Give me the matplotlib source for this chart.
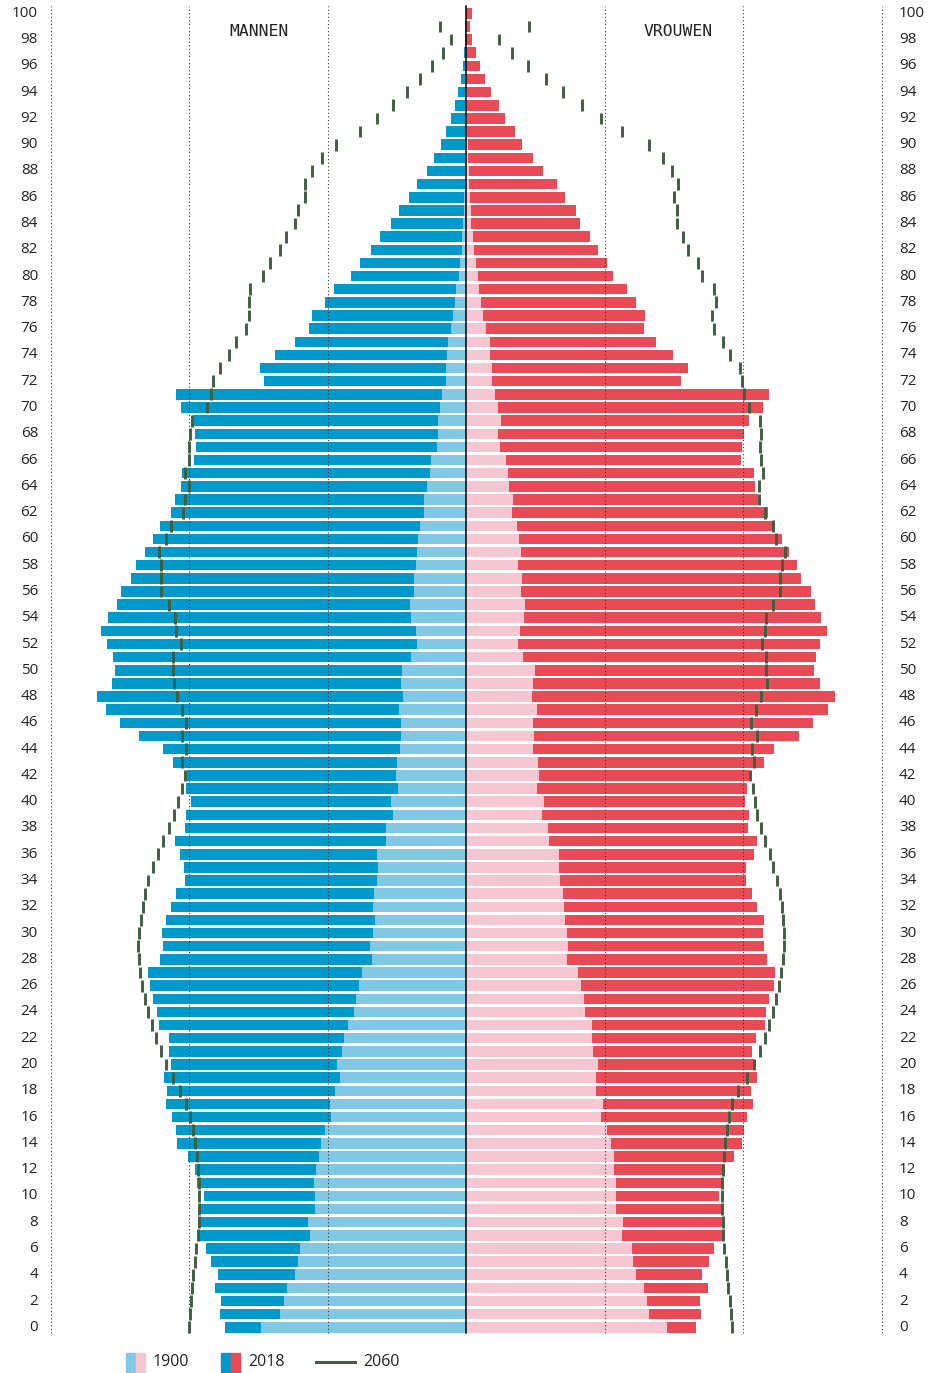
import numpy as np
import matplotlib
matplotlib.use("Agg")
import matplotlib.pyplot as plt
from matplotlib.patches import Rectangle
from matplotlib.lines import Line2D
import matplotlib.transforms as mtransforms

# population per age (x 1000), ages 0..100
ages = np.arange(0, 101)

men_2018 = [87.1, 88.9, 88.6, 90.7, 89.6, 92.2, 94.0, 96.5, 96.9, 96.5,
            94.7, 97.2, 97.9, 100.5, 104.4, 104.8, 106.2, 108.4, 108.1, 109.1,
            106.6, 107.3, 107.3, 110.9, 111.7, 113.1, 114.2, 114.9, 110.6, 109.5,
            109.9, 108.4, 106.6, 104.8, 101.6, 101.9, 103.4, 105.2, 101.6, 101.2,
            99.4, 101.2, 100.8, 105.9, 109.5, 118.2, 125.0, 130.1, 133.3, 127.9,
            126.8, 127.5, 129.7, 131.9, 129.4, 126.1, 124.7, 121.0, 119.2, 116.0,
            113.1, 110.6, 106.6, 105.2, 103.0, 102.6, 98.3, 97.6, 97.9, 98.7,
            103.0, 104.8, 73.0, 74.5, 69.1, 61.8, 56.8, 55.7, 51.0, 47.8,
            41.6, 38.4, 34.4, 31.2, 27.2, 24.3, 20.7, 17.8, 14.2, 11.7,
            9.1, 7.3, 5.5, 4.1, 3.0, 1.9, 1.2, 0.9, 0.5, 0.3, 0.2]

men_1900 = [74.1, 67.3, 65.8, 64.7, 61.8, 60.8, 60.0, 56.4, 57.1, 54.6,
            54.6, 55.0, 54.3, 53.2, 52.5, 51.0, 48.8, 49.2, 47.4, 45.6,
            46.7, 44.9, 44.2, 42.7, 40.5, 39.8, 38.7, 37.7, 34.0, 34.8,
            33.7, 33.0, 33.7, 33.3, 32.2, 31.9, 32.2, 29.0, 29.0, 26.5,
            27.2, 24.7, 25.4, 25.0, 23.9, 23.6, 23.6, 24.3, 22.9, 23.6,
            23.2, 20.0, 17.8, 18.2, 20.0, 20.3, 18.9, 18.9, 18.2, 17.8,
            17.4, 16.7, 15.3, 15.3, 14.2, 13.1, 12.7, 10.6, 10.2, 10.2,
            9.5, 8.8, 7.3, 7.3, 7.0, 6.6, 5.5, 4.8, 4.1, 3.7,
            2.6, 2.3, 1.6, 1.6, 1.2, 0.8, 0.8, 0.5, 0.5, 0.4,
            0.3, 0.2, 0.15, 0.1, 0.05, 0.05, 0.05, 0.05, 0.05, 0.05, 0.05]

men_2060 = [100.1, 99.7, 99.4, 99.0, 98.7, 97.9, 97.6, 96.9, 96.6, 96.4,
            96.4, 96.6, 96.9, 97.2, 97.9, 98.7, 99.7, 101.2, 103.4, 105.9,
            108.3, 110.1, 111.9, 113.6, 115.0, 116.1, 117.2, 117.9, 118.3, 118.6,
            118.3, 117.5, 116.8, 115.9, 114.8, 113.0, 111.2, 109.5, 107.3, 105.5,
            104.1, 102.6, 101.6, 102.6, 101.2, 102.6, 101.2, 102.6, 104.4, 105.5,
            105.9, 105.9, 103.0, 104.8, 105.2, 107.3, 110.2, 110.2, 110.2, 110.9,
            108.4, 106.6, 102.3, 101.6, 100.1, 101.6, 100.1, 100.1, 99.7, 99.1,
            93.7, 92.1, 91.3, 88.8, 85.6, 83.1, 79.5, 78.4, 78.4, 78.0,
            73.3, 70.8, 67.1, 65.0, 61.9, 60.9, 58.3, 58.3, 55.8, 52.0,
            46.9, 38.5, 32.1, 26.4, 21.4, 16.8, 12.3, 8.3, 5.4, 9.4, np.nan]

women_2018 = [82.9, 84.7, 84.4, 87.3, 85.1, 87.6, 89.4, 92.3, 92.3, 92.3,
              91.2, 92.3, 93.4, 96.6, 99.5, 100.3, 101.3, 103.5, 102.8, 104.9,
              103.9, 103.1, 104.6, 107.8, 108.2, 109.3, 111.1, 111.4, 108.6, 107.5,
              107.1, 107.5, 104.9, 103.1, 101.0, 101.0, 103.9, 104.9, 101.7, 102.1,
              100.6, 101.3, 101.9, 107.5, 111.1, 120.1, 125.2, 130.6, 133.1, 127.7,
              125.5, 126.2, 127.7, 130.2, 128.1, 125.9, 124.4, 120.8, 119.4, 116.5,
              114.0, 111.4, 108.9, 105.3, 104.2, 103.9, 99.2, 99.5, 100.3, 102.1,
              107.1, 109.3, 77.5, 80.0, 74.6, 68.5, 64.2, 64.5, 61.3, 58.0,
              53.0, 50.8, 47.5, 44.7, 41.0, 39.6, 35.6, 32.7, 27.7, 24.1,
              20.1, 17.6, 14.0, 11.8, 8.9, 6.8, 4.9, 3.5, 2.1, 1.3, 2.1]

women_1900 = [72.5, 66.0, 65.2, 64.2, 61.3, 60.2, 59.8, 56.2, 56.6, 54.0,
              54.0, 54.0, 53.3, 53.3, 52.2, 50.8, 48.6, 49.4, 46.8, 46.8,
              47.5, 45.7, 45.4, 45.4, 42.9, 42.5, 41.4, 40.3, 36.4, 36.7,
              36.4, 35.6, 35.3, 34.9, 33.8, 33.5, 33.5, 29.9, 29.5, 27.3,
              28.1, 25.5, 26.2, 25.9, 24.1, 24.4, 24.1, 25.5, 23.7, 24.1,
              24.8, 20.5, 18.7, 19.4, 20.8, 21.2, 19.7, 20.1, 18.7, 19.7,
              19.0, 18.3, 16.5, 16.9, 15.4, 15.1, 14.3, 12.2, 11.4, 12.5,
              11.4, 10.4, 9.3, 9.3, 8.6, 8.6, 7.1, 6.0, 5.3, 4.6,
              4.2, 3.5, 2.8, 2.4, 1.7, 1.7, 1.3, 0.9, 0.9, 0.7,
              0.5, 0.35, 0.25, 0.15, 0.1, 0.05, 0.05, 0.05, 0.05, 0.05, 0.05]

women_2060 = [96.0, 95.7, 95.3, 94.6, 94.2, 93.9, 93.1, 92.8, 92.8, 92.4,
              92.4, 92.4, 92.8, 93.1, 93.5, 94.2, 94.8, 95.9, 98.2, 101.2,
              104.0, 106.1, 107.9, 109.4, 110.8, 111.8, 112.9, 113.6, 114.3, 114.7,
              114.7, 114.3, 114.0, 113.4, 112.3, 110.8, 109.7, 107.9, 106.5, 105.1,
              104.1, 103.4, 102.3, 103.8, 103.0, 105.1, 102.7, 104.7, 106.5, 108.7,
              108.3, 108.1, 106.6, 107.7, 108.3, 110.8, 113.4, 113.4, 114.1, 115.1,
              111.9, 110.8, 107.7, 105.6, 105.6, 107.0, 106.3, 105.9, 106.5, 105.9,
              101.9, 100.3, 99.5, 98.9, 95.3, 92.8, 89.5, 88.8, 90.3, 89.5,
              85.0, 83.5, 79.9, 78.1, 76.2, 76.2, 75.1, 76.5, 74.4, 71.1,
              65.8, 56.2, 48.7, 41.7, 35.0, 28.9, 22.2, 16.5, 11.9, 22.5, np.nan]

grid_values = [50, 100, 150]
legend_labels = ["1900", "2018", "2060"]

C_MEN = "#0099cc"
C_MEN_LIGHT = "#80c8e4"
C_WOMEN = "#e84b55"
C_WOMEN_LIGHT = "#f7c6d3"
C_2060 = "#3e5f40"
C_TEXT = "#222222"
NUM_FONT = "Open Sans"

W, H = 934, 1373
fig = plt.figure(figsize=(W / 100, H / 100), dpi=100)
ax = fig.add_axes([0, 0, 1, 1])
ax.axis("off")

# pixel layout: centre at x=466.3, 2.77 px per 1000, 13.14 px per year
cx, kpx, ypx, y0 = 466.3, 2.77, 13.14, 1327.3
ax.set_xlim(-cx / kpx, (W - cx) / kpx)
ax.set_ylim(-(H - y0) / ypx, y0 / ypx)

men_2018 = np.array(men_2018)
men_1900 = np.array(men_1900)
men_2060 = np.array(men_2060)
women_2018 = np.array(women_2018)
women_1900 = np.array(women_1900)
women_2060 = np.array(women_2060)

bh = 0.8
ax.barh(ages, -men_2018, height=bh, color=C_MEN, zorder=2)
ax.barh(ages, -men_1900, height=bh, color=C_MEN_LIGHT, zorder=3)
ax.barh(ages, women_2018, height=bh, color=C_WOMEN, zorder=2)
ax.barh(ages, women_1900, height=bh, color=C_WOMEN_LIGHT, zorder=3)

# dotted grid
for g in grid_values:
    for s in (-1, 1):
        ax.plot([s * g, s * g], [-0.45, 100.55], color="#333333", lw=0.8,
                linestyle=(0, (1, 2.2)), zorder=4)
ax.plot([0, 0], [-0.45, 100.55], color="black", lw=1.1, zorder=5)

# 2060 projection as short ticks
ax.vlines(-men_2060, ages - 0.45, ages + 0.45, color=C_2060, lw=2.1, zorder=6)
ax.vlines(women_2060, ages - 0.45, ages + 0.45, color=C_2060, lw=2.1, zorder=6)

# age labels
trans = mtransforms.blended_transform_factory(ax.transAxes, ax.transData)
for a in range(0, 101, 2):
    ax.text(38 / W, a, str(a), transform=trans, ha="right", va="center",
            fontsize=11, color=C_TEXT, family=NUM_FONT)
    ax.text(899 / W, a, str(a), transform=trans, ha="left", va="center",
            fontsize=11, color=C_TEXT, family=NUM_FONT)

fig.text(259 / W, 1 - 31 / H, "MANNEN", ha="center", va="center",
         fontsize=11.8, color=C_TEXT, family="DejaVu Sans Mono")
fig.text(678 / W, 1 - 31 / H, "VROUWEN", ha="center", va="center",
         fontsize=11.8, color=C_TEXT, family="DejaVu Sans Mono")

# legend
def fx(px):
    return px / W

def fy(py):
    return 1 - py / H

for x0, c1, c2 in [(126, C_MEN_LIGHT, C_WOMEN_LIGHT), (221, C_MEN, C_WOMEN)]:
    fig.add_artist(Rectangle((fx(x0), fy(1372)), fx(9.5), 19 / H,
                             color=c1, transform=fig.transFigure))
    fig.add_artist(Rectangle((fx(x0 + 9.5), fy(1372)), fx(9.5), 19 / H,
                             color=c2, transform=fig.transFigure))
fig.add_artist(Line2D([fx(316), fx(355)], [fy(1362), fy(1362)], color=C_2060,
                      lw=2.2, transform=fig.transFigure))
for xt, lab in zip([153, 248, 363], legend_labels):
    fig.text(fx(xt), fy(1362), lab, ha="left", va="center", fontsize=11.5,
             color=C_TEXT, family=NUM_FONT)

fig.savefig("out.png", dpi=100)
